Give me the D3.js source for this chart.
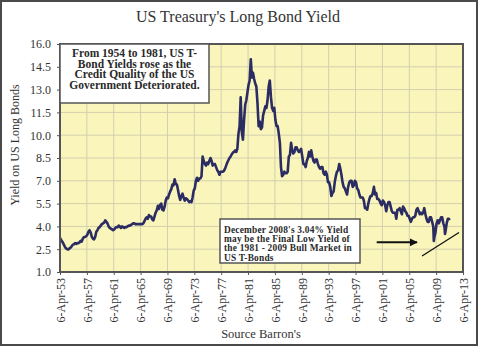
<!DOCTYPE html>
<html>
<head>
<meta charset="utf-8">
<script src="https://cdn.jsdelivr.net/npm/d3@7/dist/d3.min.js"></script>
<style>
  html, body { margin: 0; padding: 0; background: #fff; }
  svg { display: block; font-family: "Liberation Serif", "Times New Roman", serif; }
</style>
</head>
<body>
<div id="chart"></div>
<script>
// US Treasury long bond yield, 1953-2011.
// Roughly bi-monthly readings; extra points where the line spikes.

const months = [
  "1953-04","1953-05","1953-07","1953-09","1953-11",
  "1954-01","1954-03","1954-05","1954-07","1954-09","1954-11",
  "1955-01","1955-03","1955-05","1955-07","1955-09","1955-11",
  "1956-01","1956-03","1956-05","1956-07","1956-09","1956-11",
  "1957-01","1957-03","1957-05","1957-07","1957-09","1957-11",
  "1958-01","1958-03","1958-05","1958-07","1958-09","1958-11",
  "1959-01","1959-03","1959-05","1959-07","1959-09","1959-11",
  "1960-01","1960-03","1960-05","1960-07","1960-09","1960-11",
  "1961-01","1961-03","1961-05","1961-07","1961-09","1961-11",
  "1962-01","1962-03","1962-05","1962-07","1962-09","1962-11",
  "1963-01","1963-03","1963-05","1963-07","1963-09","1963-11",
  "1964-01","1964-03","1964-05","1964-07","1964-09","1964-11",
  "1965-01","1965-03","1965-05","1965-07","1965-09","1965-11",
  "1966-01","1966-03","1966-05","1966-07","1966-09","1966-11",
  "1967-01","1967-03","1967-05","1967-07","1967-09","1967-11",
  "1968-01","1968-03","1968-05","1968-07","1968-09","1968-11",
  "1969-01","1969-03","1969-05","1969-07","1969-09","1969-11",
  "1970-01","1970-03","1970-05","1970-07","1970-09","1970-11",
  "1971-01","1971-03","1971-05","1971-07","1971-09","1971-11",
  "1972-01","1972-03","1972-05","1972-07","1972-09","1972-11",
  "1973-01","1973-03","1973-05","1973-07","1973-09","1973-11",
  "1974-01","1974-03","1974-05","1974-07","1974-09","1974-11",
  "1975-01","1975-03","1975-05","1975-07","1975-09","1975-11",
  "1976-01","1976-03","1976-05","1976-07","1976-09","1976-11",
  "1977-01","1977-03","1977-05","1977-07","1977-09","1977-11",
  "1978-01","1978-03","1978-05","1978-07","1978-09","1978-11",
  "1979-01","1979-03","1979-05","1979-07","1979-09","1979-11",
  "1980-01","1980-03","1980-05","1980-07","1980-09","1980-11",
  "1981-01","1981-03","1981-05","1981-07","1981-09","1981-11",
  "1982-01","1982-03","1982-05","1982-07","1982-09","1982-11",
  "1983-01","1983-03","1983-05","1983-07","1983-09","1983-11",
  "1984-01","1984-03","1984-05","1984-07","1984-09","1984-11",
  "1985-01","1985-03","1985-05","1985-07","1985-09","1985-11",
  "1986-01","1986-03","1986-05","1986-07","1986-09","1986-11",
  "1987-01","1987-03","1987-05","1987-07","1987-09","1987-11",
  "1988-01","1988-03","1988-05","1988-07","1988-09","1988-11",
  "1989-01","1989-03","1989-05","1989-07","1989-09","1989-11",
  "1990-01","1990-03","1990-05","1990-07","1990-09","1990-11",
  "1991-01","1991-03","1991-05","1991-07","1991-09","1991-11",
  "1992-01","1992-03","1992-05","1992-07","1992-09","1992-11",
  "1993-01","1993-03","1993-05","1993-07","1993-09","1993-11",
  "1994-01","1994-03","1994-05","1994-07","1994-09","1994-11",
  "1995-01","1995-03","1995-05","1995-07","1995-09","1995-11",
  "1996-01","1996-03","1996-05","1996-07","1996-09","1996-11",
  "1997-01","1997-03","1997-05","1997-07","1997-09","1997-11",
  "1998-01","1998-03","1998-05","1998-07","1998-09","1998-11",
  "1999-01","1999-03","1999-05","1999-07","1999-09","1999-11",
  "2000-01","2000-03","2000-05","2000-07","2000-09","2000-11",
  "2001-01","2001-03","2001-05","2001-07","2001-09","2001-11",
  "2002-01","2002-03","2002-05","2002-07","2002-09","2002-11",
  "2003-01","2003-03","2003-05","2003-07","2003-09","2003-11",
  "2004-01","2004-03","2004-05","2004-07","2004-09","2004-11",
  "2005-01","2005-03","2005-05","2005-07","2005-09","2005-11",
  "2006-01","2006-03","2006-05","2006-07","2006-09","2006-11",
  "2007-01","2007-03","2007-05","2007-07","2007-09","2007-11",
  "2008-01","2008-03","2008-05","2008-07","2008-09","2008-11","2008-12",
  "2009-01","2009-03","2009-05","2009-07","2009-09","2009-11",
  "2010-01","2010-03","2010-05","2010-07","2010-08","2010-09","2010-11",
  "2011-01","2011-03","2011-04"
];

const yields = [
  3.15, 3.2, 3.05, 2.95, 2.8,
  2.65, 2.55, 2.5, 2.48, 2.55, 2.6,
  2.7, 2.8, 2.82, 2.9, 2.85, 2.9,
  2.9, 2.95, 3.05, 3.0, 3.2, 3.3,
  3.3, 3.35, 3.45, 3.65, 3.75, 3.6,
  3.3, 3.2, 3.15, 3.3, 3.65, 3.75,
  3.9, 3.95, 4.05, 4.15, 4.2, 4.25,
  4.4, 4.3, 4.2, 4.0, 3.9, 3.85,
  3.8, 3.75, 3.8, 3.9, 3.95, 3.95,
  4.05, 4.0, 3.9, 4.0, 3.95, 3.9,
  3.95, 3.95, 4.0, 4.05, 4.05, 4.1,
  4.15, 4.2, 4.2, 4.15, 4.15, 4.15,
  4.15, 4.15, 4.15, 4.15, 4.2, 4.35,
  4.5, 4.6, 4.5, 4.75, 4.65, 4.65,
  4.45, 4.4, 4.65, 4.9, 5.05, 5.35,
  5.15, 5.4, 5.5, 5.1, 5.05, 5.3,
  5.7, 5.9, 5.85, 6.1, 6.3, 6.45,
  6.75, 6.7, 7.1, 6.8, 6.75, 6.4,
  6.0, 5.75, 6.0, 6.15, 5.9, 5.7,
  5.85, 5.8, 5.7, 5.6, 5.65, 5.6,
  5.9, 6.35, 6.5, 7.0, 7.2, 7.0,
  7.15, 7.15, 7.3, 8.6, 8.3, 8.1,
  8.0, 8.2, 8.1, 8.3, 8.5, 8.3,
  8.0, 8.1, 8.1, 7.9, 7.7, 7.6,
  7.4, 7.6, 7.6, 7.6, 7.65, 7.8,
  8.0, 8.2, 8.35, 8.5, 8.6, 8.75,
  8.85, 8.9, 9.0, 8.9, 9.1, 10.1,
  10.6, 12.5, 10.2, 9.7, 11.0, 12.0,
  12.3, 12.8, 13.3, 13.6, 15.0, 13.8,
  14.1, 13.7, 13.4, 13.2, 12.1, 10.6,
  10.9, 10.4, 10.5, 11.3, 11.6, 11.9,
  11.8, 12.3, 13.2, 13.6, 12.5, 11.8,
  11.6, 11.8, 11.0, 10.6, 10.6, 10.1,
  9.5, 7.9, 7.3, 7.4, 7.6, 7.5,
  7.5, 7.6, 8.6, 8.7, 9.5, 9.0,
  8.8, 8.9, 9.2, 9.2, 9.0, 8.9,
  9.0, 9.1, 8.6, 8.1, 8.1, 7.9,
  8.3, 8.5, 8.9, 8.6, 9.0, 8.6,
  8.3, 8.2, 8.4, 8.4, 8.1, 7.9,
  7.8, 7.9, 7.9, 7.5, 7.4, 7.6,
  7.4, 6.9, 6.9, 6.6, 6.0, 6.2,
  6.3, 6.9, 7.3, 7.6, 7.7, 8.1,
  7.8, 7.4, 6.9, 6.6, 6.5, 6.3,
  6.1, 6.6, 6.9, 7.0, 7.0, 6.6,
  6.7, 7.0, 6.9, 6.5, 6.4, 6.1,
  5.9, 5.9, 5.9, 5.7, 5.2, 5.2,
  5.1, 5.5, 5.8, 6.0, 6.0, 6.2,
  6.6, 6.1, 6.2, 5.8, 5.8, 5.7,
  5.5, 5.4, 5.7, 5.6, 5.4, 5.0,
  5.4, 5.6, 5.6, 5.3, 5.0, 4.9,
  4.9, 4.9, 4.5, 5.1, 5.1, 5.2,
  5.0, 4.8, 5.3, 5.2, 5.0, 4.9,
  4.7, 4.7, 4.5, 4.3, 4.5, 4.6,
  4.6, 4.7, 5.1, 5.2, 5.0, 4.8,
  4.9, 4.8, 4.9, 5.2, 4.8, 4.5,
  4.3, 4.3, 4.6, 4.6, 4.3, 4.0, 3.04,
  3.3, 3.6, 4.2, 4.4, 4.2, 4.4,
  4.6, 4.6, 4.2, 4.0, 3.5, 3.7, 4.2,
  4.5, 4.5, 4.4
];

const yTicks = [1.0, 2.5, 4.0, 5.5, 7.0, 8.5, 10.0, 11.5, 13.0, 14.5, 16.0];
const xTickLabels = ["6-Apr-53","6-Apr-57","6-Apr-61","6-Apr-65","6-Apr-69","6-Apr-73",
  "6-Apr-77","6-Apr-81","6-Apr-85","6-Apr-89","6-Apr-93","6-Apr-97",
  "6-Apr-01","6-Apr-05","6-Apr-09","6-Apr-13"];

const noteTop = ["From 1954 to 1981, US T-", "Bond Yields rose as the",
  "Credit Quality of the US", "Government Deteriorated."];
const noteBottom = ["December 2008's 3.04% Yield", "may be the Final Low Yield of",
  "the 1981 - 2009 Bull Market in", "US T-Bonds"];

// arrow and trend line, in (date, yield) terms
const arrowPts = [["2000-06", 2.95], ["2006-06", 2.95]];
const trendPts = [["2007-03", 2.05], ["2012-09", 3.6]];

const W = 480, H = 348;
const margin = { left: 60, right: 17, top: 44, bottom: 76 };

const parseMonth = d3.timeParse("%Y-%m");
const parseTick = d3.timeParse("%d-%b-%y");
const series = months.map((m, i) => ({ date: parseMonth(m), y: yields[i] }));
const tickDates = xTickLabels.map(s => {
  const d = parseTick(s);
  if (d.getFullYear() > 2030) d.setFullYear(d.getFullYear() - 100);
  return d;
});

const svg = d3.select("#chart").append("svg")
  .attr("width", W).attr("height", H);

// outer frame
svg.append("rect")
  .attr("x", 1).attr("y", 1).attr("width", W - 4).attr("height", H - 4)
  .attr("fill", "#fff").attr("stroke", "#4a4a4a").attr("stroke-width", 2);

const x = d3.scaleTime()
  .domain([tickDates[0], tickDates[tickDates.length - 1]])
  .range([margin.left, W - margin.right]);
const y = d3.scaleLinear()
  .domain([1, 16])
  .range([H - margin.bottom, margin.top]);

const plotW = x.range()[1] - x.range()[0];
const plotH = y.range()[0] - y.range()[1];

svg.append("rect")
  .attr("x", margin.left).attr("y", margin.top)
  .attr("width", plotW).attr("height", plotH)
  .attr("fill", "#faf6bb");

// gridlines
svg.append("g")
  .selectAll("line.h").data(yTicks).join("line")
  .attr("x1", margin.left).attr("x2", margin.left + plotW)
  .attr("y1", d => y(d)).attr("y2", d => y(d))
  .attr("stroke", "#d3cfae").attr("stroke-width", 1);
svg.append("g")
  .selectAll("line.v").data(tickDates).join("line")
  .attr("x1", d => x(d)).attr("x2", d => x(d))
  .attr("y1", margin.top).attr("y2", margin.top + plotH)
  .attr("stroke", "#d3cfae").attr("stroke-width", 1);

// axes
const yAxis = svg.append("g")
  .attr("transform", `translate(${margin.left},0)`)
  .call(d3.axisLeft(y).tickValues(yTicks).tickFormat(d3.format(".1f")).tickSize(3).tickPadding(6));
const xAxis = svg.append("g")
  .attr("transform", `translate(0,${margin.top + plotH})`)
  .call(d3.axisBottom(x).tickValues(tickDates).tickFormat((d, i) => xTickLabels[i]).tickSize(3).tickPadding(3));

[yAxis, xAxis].forEach(g => {
  g.select(".domain").remove();
  g.selectAll(".tick line").attr("stroke", "#555");
  g.selectAll("text").attr("fill", "#333")
    .style("font-family", "'Liberation Serif', serif").style("font-size", "12px");
});
xAxis.selectAll("text")
  .attr("transform", "rotate(-90)")
  .attr("text-anchor", "end")
  .attr("x", -6).attr("y", 0).attr("dy", "0.35em");

// series line
svg.append("path")
  .datum(series)
  .attr("fill", "none")
  .attr("stroke", "#2b2c62")
  .attr("stroke-width", 2.6)
  .attr("stroke-linejoin", "round")
  .attr("d", d3.line().x(d => x(d.date)).y(d => y(d.y)));

// plot frame
svg.append("rect")
  .attr("x", margin.left).attr("y", margin.top)
  .attr("width", plotW).attr("height", plotH)
  .attr("fill", "none").attr("stroke", "#555").attr("stroke-width", 2);

// titles
svg.append("text")
  .attr("x", 238).attr("y", 22)
  .attr("text-anchor", "middle")
  .attr("fill", "#333").style("font-size", "16px")
  .text("US Treasury's Long Bond Yield");

svg.append("text")
  .attr("transform", "translate(19,145) rotate(-90)")
  .attr("text-anchor", "middle")
  .attr("fill", "#333").style("font-size", "12px")
  .text("Yield on US Long Bonds");

svg.append("text")
  .attr("x", 261).attr("y", 338)
  .attr("text-anchor", "middle")
  .attr("fill", "#333").style("font-size", "12.5px")
  .text("Source Barron's");

// annotation boxes
function noteBox(lines, bx, by, bw, bh, opts) {
  const g = svg.append("g");
  g.append("rect")
    .attr("x", bx).attr("y", by).attr("width", bw).attr("height", bh)
    .attr("fill", "#fff").attr("stroke", "#555").attr("stroke-width", 1.5);
  g.append("g").selectAll("text").data(lines).join("text")
    .attr("x", opts.anchor === "middle" ? bx + bw / 2 : bx + opts.pad)
    .attr("y", (d, i) => by + opts.first + i * opts.lh)
    .attr("text-anchor", opts.anchor)
    .attr("fill", "#2a2a2a")
    .style("font-weight", "bold")
    .style("font-size", opts.size + "px")
    .style("letter-spacing", (opts.ls || 0) + "px")
    .text(d => d);
}

noteBox(noteTop, margin.left, margin.top, 149, 59,
  { anchor: "middle", first: 13, lh: 10.6, size: 11.5 });
noteBox(noteBottom, 220, 219, 140, 44,
  { anchor: "start", pad: 4, first: 13.5, lh: 9.4, size: 9.4, ls: 0.2 });

// arrow + trend line
svg.append("defs").append("marker")
  .attr("id", "arrowhead")
  .attr("viewBox", "0 0 10 10").attr("refX", 9).attr("refY", 5)
  .attr("markerWidth", 4).attr("markerHeight", 4)
  .attr("orient", "auto")
  .append("path").attr("d", "M0,0 L10,5 L0,10 z").attr("fill", "#111");

svg.append("line")
  .attr("x1", x(parseMonth(arrowPts[0][0]))).attr("y1", y(arrowPts[0][1]))
  .attr("x2", x(parseMonth(arrowPts[1][0]))).attr("y2", y(arrowPts[1][1]))
  .attr("stroke", "#111").attr("stroke-width", 2)
  .attr("marker-end", "url(#arrowhead)");

svg.append("line")
  .attr("x1", x(parseMonth(trendPts[0][0]))).attr("y1", y(trendPts[0][1]))
  .attr("x2", x(parseMonth(trendPts[1][0]))).attr("y2", y(trendPts[1][1]))
  .attr("stroke", "#111").attr("stroke-width", 1.3);
</script>
</body>
</html>
